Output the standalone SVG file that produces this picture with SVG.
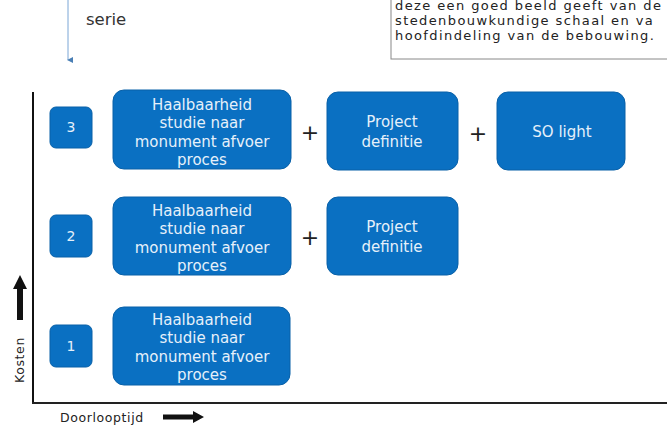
<svg xmlns="http://www.w3.org/2000/svg" width="667" height="429" viewBox="0 0 667 429">
<defs>
<style>
.box{fill:#0a70c2;stroke:#0860a8;stroke-width:1}
.bt{font-family:"DejaVu Sans",Verdana,sans-serif;font-size:15px;fill:#e6f0fa;text-anchor:middle}
.nt{font-family:"DejaVu Sans",Verdana,sans-serif;font-size:14px;fill:#e6f0fa;text-anchor:middle}
.plus{font-family:"DejaVu Sans",sans-serif;font-size:22px;fill:#222;text-anchor:middle}
.lbl{font-family:"DejaVu Sans",Verdana,sans-serif;font-size:12.5px;letter-spacing:0.6px;fill:#222}
.note{font-family:"DejaVu Sans",Verdana,sans-serif;font-size:13px;letter-spacing:1.4px;fill:#222}
</style>
<marker id="ah" markerWidth="6" markerHeight="6" refX="3" refY="5" orient="auto-start-reverse" markerUnits="userSpaceOnUse"><path d="M0,0 L6,0 L3,6 Z" fill="#4a7fb5"/></marker>
</defs>
<rect width="667" height="429" fill="#fff"/>
<g id="note">
<rect x="391" y="-5" width="290" height="64" fill="#fff" stroke="#888" stroke-width="1"/>
<text class="note" x="395" y="10">deze een goed beeld geeft van de</text>
<text class="note" x="395" y="25">stedenbouwkundige schaal en va</text>
<text class="note" x="395" y="40">hoofdindeling van de bebouwing.</text>
</g>
<g id="serie">
<text x="86" y="25" font-family="'DejaVu Sans',Verdana,sans-serif" font-size="16.5" fill="#333">serie</text>
</g>
<g id="connectors">
<line x1="68" y1="0" x2="68" y2="60" stroke="#7aa6d6" stroke-width="1" marker-end="url(#ah)"/>
<line x1="33" y1="92" x2="33" y2="404" stroke="#111" stroke-width="2"/>
<line x1="32" y1="403" x2="667" y2="403" stroke="#222" stroke-width="2"/>
<path d="M17,320 L17,289 L13,289 L20,275 L27,289 L23,289 L23,320 Z" fill="#111"/>
<path d="M163,414.5 L193,414.5 L193,411 L204,417 L193,423 L193,419.5 L163,419.5 Z" fill="#111"/>
</g>
<g id="axis-labels">
<text class="lbl" x="0" y="0" transform="translate(24,360) rotate(-90)" text-anchor="middle">Kosten</text>
<text class="lbl" x="60" y="422">Doorlooptijd</text>
</g>
<g id="n3"><rect class="box" x="50" y="107" width="42" height="41" rx="6"/><text class="nt" x="71" y="132">3</text></g>
<g id="n2"><rect class="box" x="50" y="215" width="42" height="42" rx="6"/><text class="nt" x="71" y="241">2</text></g>
<g id="n1"><rect class="box" x="50" y="325" width="42" height="42" rx="6"/><text class="nt" x="71" y="351">1</text></g>
<g id="h3"><rect class="box" x="113" y="90" width="178" height="79" rx="11"/>
<text class="bt" x="202" y="110">Haalbaarheid</text><text class="bt" x="202" y="128">studie naar</text><text class="bt" x="202" y="147">monument afvoer</text><text class="bt" x="202" y="165">proces</text></g>
<g id="h2"><rect class="box" x="113" y="197" width="178" height="78" rx="11"/>
<text class="bt" x="202" y="216">Haalbaarheid</text><text class="bt" x="202" y="234">studie naar</text><text class="bt" x="202" y="253">monument afvoer</text><text class="bt" x="202" y="271">proces</text></g>
<g id="h1"><rect class="box" x="113" y="307" width="177" height="78" rx="11"/>
<text class="bt" x="202" y="325">Haalbaarheid</text><text class="bt" x="202" y="343">studie naar</text><text class="bt" x="202" y="362">monument afvoer</text><text class="bt" x="202" y="380">proces</text></g>
<g id="p3"><rect class="box" x="327" y="92" width="131" height="78" rx="11"/>
<text class="bt" x="392" y="127">Project</text><text class="bt" x="392" y="147">definitie</text></g>
<g id="p2"><rect class="box" x="327" y="197" width="131" height="78" rx="11"/>
<text class="bt" x="392" y="232">Project</text><text class="bt" x="392" y="252">definitie</text></g>
<g id="so"><rect class="box" x="497" y="92" width="128" height="78" rx="11"/>
<text class="bt" x="562" y="137">SO light</text></g>
<g id="plus">
<text class="plus" x="310" y="140">+</text>
<text class="plus" x="478" y="141">+</text>
<text class="plus" x="310" y="245">+</text>
</g>
</svg>
